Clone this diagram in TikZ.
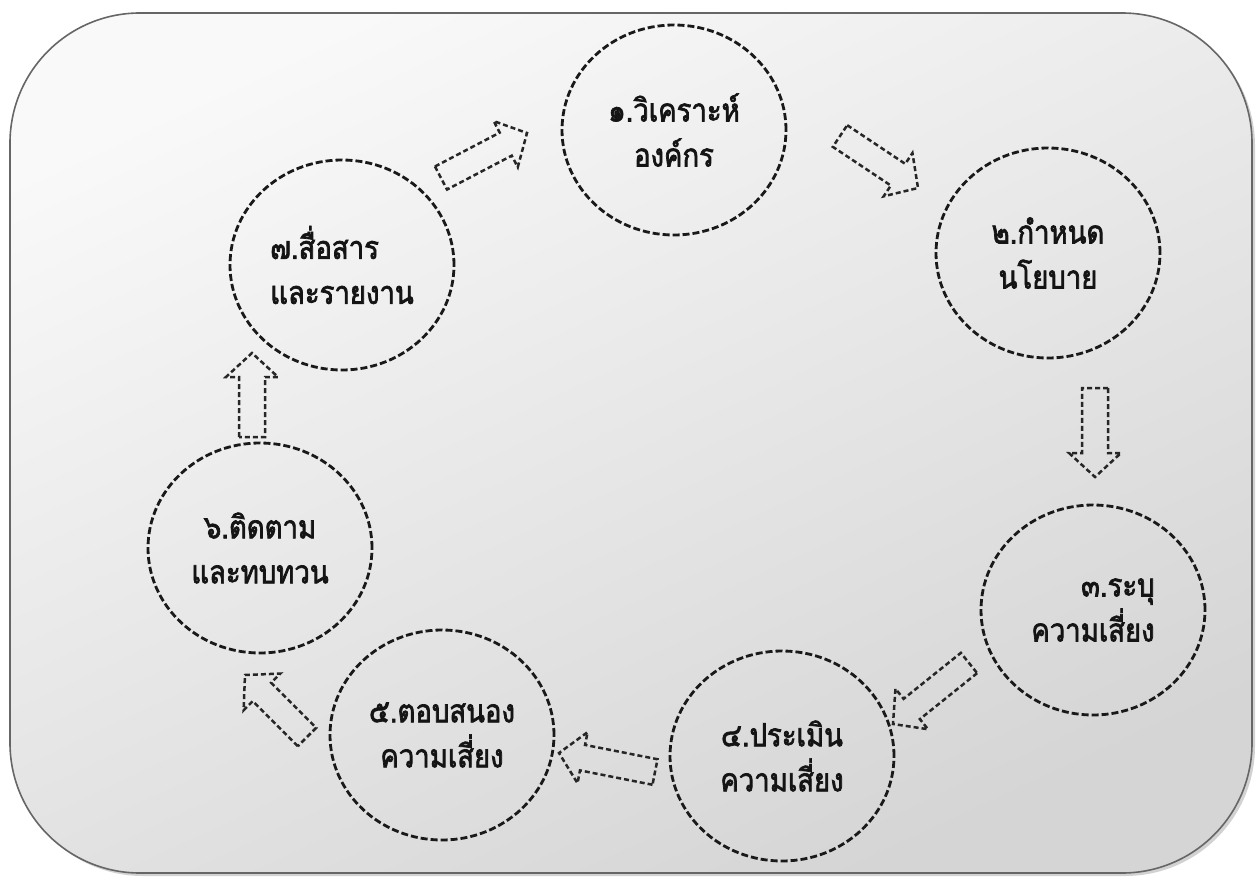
\documentclass[tikz,border=0pt]{standalone}
\usepackage{fontspec}
\usepackage{xcolor}
\usepackage{tikz}
\usetikzlibrary{shapes.geometric,calc,shadows}

\newfontfamily\thaifont[Script=Thai, FakeStretch=0.86, AutoFakeBold=2.2]{Loma}

\tikzset{
	stage/.style={ellipse, draw=black!90, dash pattern=on 7pt off 3pt, line width=2.8pt,
		minimum width=224pt, minimum height=210pt, inner sep=0pt, text=black!92,
		font=\thaifont\bfseries\fontsize{32}{45}\selectfont},
	flow/.style={draw=black!85, line width=2.5pt, dash pattern=on 5pt off 3pt, line join=miter},
}

% block arrow from #1 to #2
\newcommand{\blockarrow}[2]{%
	\coordinate (hb) at ($(#2)!24pt!(#1)$);
	\draw[flow] ($(#1)!13pt!90:(#2)$) -- ($(hb)!13pt!90:(#2)$) -- ($(hb)!26pt!90:(#2)$)
		-- (#2) -- ($(hb)!26pt!-90:(#2)$) -- ($(hb)!13pt!-90:(#2)$) -- ($(#1)!13pt!-90:(#2)$) -- cycle;
}

\begin{document}
\begin{tikzpicture}[x=1pt, y=-1pt]
	\useasboundingbox (0,0) rectangle (1258,880);
	\fill[white] (0,0) rectangle (1258,880);

	\shade[draw=black!60, line width=1.6pt, rounded corners=130pt,
		top color=gray!5, bottom color=gray!33, shading angle=25,
		drop shadow={opacity=0.35, shadow xshift=3pt, shadow yshift=-3pt}]
		(10,13) rectangle (1252,873);

	\foreach \i/\cx/\cy/\al/\txt in {
		1/674/130/center/{๑.วิเคราะห์\\ องค์กร},
		2/1048/253/center/{๒.กำหนด\\นโยบาย},
		3/1093/610/right/{๓.ระบุ\\ความเสี่ยง},
		4/782/756/center/{๔.ประเมิน\\ความเสี่ยง},
		5/442/735/center/{๕.ตอบสนอง\\ความเสี่ยง},
		6/260/548/center/{๖.ติดตาม\\และทบทวน},
		7/342/265/left/{๗.สื่อสาร\\และรายงาน}} {
		\node[stage, align=\al] (c\i) at (\cx,\cy) {\txt};
	}

	\coordinate (s12) at (840,136);  \coordinate (e12) at (918,188);
	\coordinate (s23) at (1095,388); \coordinate (e23) at (1095,477);
	\coordinate (s34) at (969,663);  \coordinate (e34) at (893,724);
	\coordinate (s45) at (655,772);  \coordinate (e45) at (559,753);
	\coordinate (s56) at (307,737);  \coordinate (e56) at (245,675);
	\coordinate (s67) at (252,437);  \coordinate (e67) at (252,353);
	\coordinate (s71) at (441,178);  \coordinate (e71) at (527,133);

	\foreach \a in {12,23,34,45,56,67,71} {
		\blockarrow{s\a}{e\a}
	}
\end{tikzpicture}
\end{document}
